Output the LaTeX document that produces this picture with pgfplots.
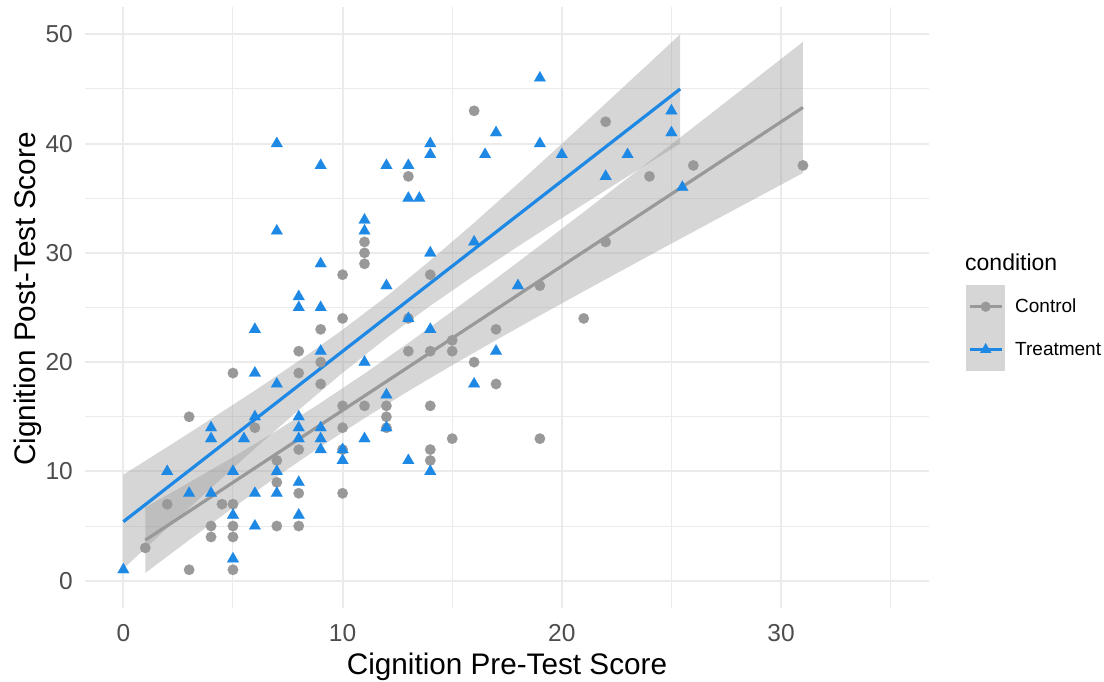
\documentclass[border=0pt]{standalone}
\usepackage{fontspec}
\setmainfont{Liberation Sans}
\usepackage{pgfplots}
\pgfplotsset{compat=1.18}
\definecolor{ctrl}{RGB}{153,153,153}
\definecolor{treat}{RGB}{30,136,229}
\definecolor{gridc}{RGB}{235,235,235}
\definecolor{tickc}{RGB}{77,77,77}
\definecolor{keyfill}{RGB}{214,214,214}
\begin{document}
\begin{tikzpicture}
\useasboundingbox (0,0) rectangle (1104pt,681pt);
\begin{axis}[
  at={(85pt,73pt)}, anchor=south west,
  width=844pt, height=601pt, scale only axis,
  xmin=-1.75, xmax=36.75, ymin=-2.5, ymax=52.5,
  axis line style={draw=none},
  xtick={0,10,20,30}, ytick={0,10,20,30,40,50},
  minor xtick={5,15,25,35}, minor ytick={5,15,25,35,45},
  major tick length=0pt, minor tick length=0pt,
  grid=both,
  major grid style={color=gridc, line width=2pt},
  minor grid style={color=gridc, line width=1pt},
  /pgf/number format/assume math mode=true,
  tick label style={font=\fontsize{24.5}{26}\selectfont, text=tickc, inner sep=0pt},
  xticklabel style={anchor=base, yshift=-33pt},
  yticklabel style={anchor=east, xshift=-12pt},
  legend style={at={(axis description cs:1.04384,0.53744)}, anchor=north west,
    draw=none, fill=none, inner sep=0pt, row sep=0pt,
    nodes={inner sep=0pt, anchor=west, font=\fontsize{19}{20}\selectfont}},
  legend image code/.code={
    \fill[keyfill] (0pt,-20pt) rectangle (36pt,20pt);
    \path (46pt,0pt);
    \draw[mark repeat=2,mark phase=2,#1] plot coordinates {(2pt,0pt) (18pt,0pt) (34pt,0pt)};
  },
]
\addlegendimage{color=ctrl, line width=3pt, mark=*, mark size=5pt, mark options={draw=ctrl, fill=ctrl, line width=0.1pt}}
\addlegendentry{Control}
\addlegendimage{color=treat, line width=3pt, mark=triangle*, mark size=6.5pt, mark options={draw=treat, fill=treat, line width=0.1pt}}
\addlegendentry{Treatment}

% Control points
\addplot[forget plot, color=ctrl, only marks, mark=*, mark size=5.3pt, mark options={draw=ctrl, fill=ctrl, line width=0.1pt}] coordinates {
(1,3)(2,7)(3,15)(3,1)(4,5)(4,4)(4.5,7)(5,19)(5,7)(5,5)(5,4)(5,1)(6,14)
(7,11)(7,9)(7,5)(8,21)(8,19)(8,12)(8,8)(8,5)(9,23)(9,20)(9,18)
(10,28)(10,24)(10,16)(10,14)(10,12)(10,8)(11,31)(11,30)(11,29)(11,16)
(12,16)(12,15)(12,14)(13,37)(13,24)(13,21)(14,28)(14,21)(14,16)(14,12)(14,11)
(15,22)(15,21)(15,13)(16,43)(16,20)(17,23)(17,18)(19,27)(19,13)(21,24)
(22,42)(22,31)(24,37)(26,38)(31,38)
};
% Treatment points
\addplot[forget plot, color=treat, only marks, mark=triangle*, mark size=6.8pt, mark options={draw=treat, fill=treat, line width=0.1pt}] coordinates {
(0,1)(2,10)(3,8)(4,14)(4,13)(4,8)(5,10)(5,6)(5,2)(5.5,13)(6,23)(6,19)(6,15)(6,8)(6,5)
(7,40)(7,32)(7,18)(7,10)(7,8)(8,26)(8,25)(8,15)(8,14)(8,13)(8,9)(8,6)
(9,38)(9,29)(9,25)(9,21)(9,14)(9,13)(9,12)(10,12)(10,11)(11,33)(11,32)(11,20)(11,13)
(12,38)(12,27)(12,17)(12,14)(13,38)(13,35)(13,24)(13,11)(13.5,35)
(14,40)(14,39)(14,30)(14,23)(14,10)(16,31)(16,18)(16.5,39)(17,41)(17,21)(18,27)
(19,46)(19,40)(20,39)(22,37)(23,39)(25,43)(25,41)(25.5,36)
};
% Control band and line
\addplot[forget plot, draw=none, fill=ctrl, fill opacity=0.4] coordinates {
(1,0.71)(3,3.72)(5,6.67)(7,9.53)(9,12.27)(11,14.87)(13,17.35)(15,19.72)(17,22.02)(19,24.27)(21,26.48)(23,28.67)(25,30.85)(27,33.01)(29,35.16)(31,37.31)
(31,49.31)(29,46.18)(27,43.05)(25,39.93)(23,36.83)(21,33.74)(19,30.67)(17,27.64)(15,24.66)(13,21.75)(11,18.95)(9,16.27)(7,13.73)(5,11.31)(3,8.98)(1,6.71)
};
\addplot[forget plot, color=ctrl, line width=3.2pt] coordinates {(1,3.71)(31,43.31)};
% Treatment band and line
\addplot[forget plot, draw=none, fill=ctrl, fill opacity=0.4] coordinates {
(0,1.10)(2,4.81)(4,8.48)(6,12.10)(8,15.63)(10,19.02)(12,22.21)(14,25.16)(16,27.93)(18,30.59)(20,33.18)(22,35.73)(24,38.25)(25.4,40.00)
(25.4,50.00)(24,47.39)(22,43.67)(20,39.98)(18,36.33)(16,32.75)(14,29.30)(12,26.01)(10,22.96)(8,20.11)(6,17.40)(4,14.80)(2,12.23)(0,9.70)
};
\addplot[forget plot, color=treat, line width=3.2pt] coordinates {(0,5.40)(25.4,45.00)};
\end{axis}
\node[anchor=base, font=\fontsize{29.7}{31}\selectfont] at (507pt,7pt) {Cignition Pre-Test Score};
\node[anchor=base, rotate=90, font=\fontsize{29.7}{31}\selectfont] at (35pt,382pt) {Cignition Post-Test Score};
\node[anchor=base west, inner sep=0pt, font=\fontsize{23}{24}\selectfont] at (965pt,410pt) {condition};
\end{tikzpicture}
\end{document}
